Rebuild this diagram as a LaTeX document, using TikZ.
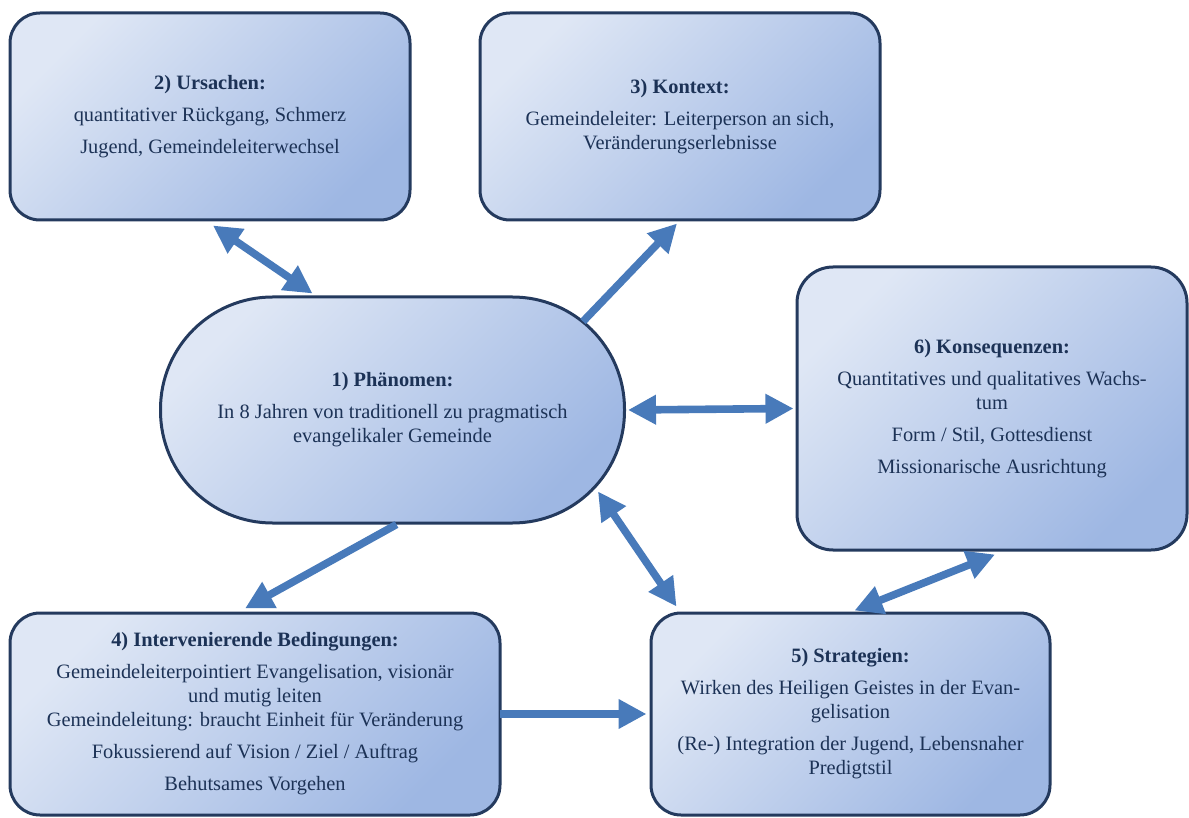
\documentclass[tikz,border=0pt]{standalone}
\usepackage{fontspec}
\setmainfont{Liberation Serif}
\usepackage{tikz}
\usetikzlibrary{arrows.meta, positioning, calc}
\definecolor{mynavy}{RGB}{36,58,94}
\definecolor{mytext}{RGB}{28,50,86}
\definecolor{myblue}{RGB}{72,122,186}
\definecolor{shadelight}{RGB}{223,231,245}
\definecolor{shadedark}{RGB}{158,183,227}
\tikzset{
  box/.style={rectangle, draw=mynavy, line width=1.5pt, rounded corners=15pt,
    top color=shadelight, bottom color=shadedark, shading angle=45,
    align=center, font=\fontsize{10.2}{12}\selectfont, text=mytext, inner sep=2pt},
  bigbox/.style={box, rounded corners=18pt},
  pill/.style={box, rounded corners=56pt},
  arrow/.style={line width=3.8pt, color=myblue, -{Triangle[width=14pt,length=14pt]}},
  dblarrow/.style={line width=3.8pt, color=myblue,
    {Triangle[width=14pt,length=14pt]}-{Triangle[width=14pt,length=14pt]}}
}

\begin{document}
\begin{tikzpicture}[x=0.5pt, y=-0.5pt]
  \useasboundingbox (0,0) rectangle (1189,818);
  % centre node
  \node[pill, minimum width=232pt, minimum height=113pt] (phaen) at (392.5,410)
    {\textbf{1) Phänomen:}\\[4pt]
     In 8 Jahren von traditionell zu pragmatisch\\ evangelikaler Gemeinde};
  % upper row
  \node[box, minimum width=200pt, minimum height=103.5pt] (ursach) at (210,116.5)
    {\textbf{2) Ursachen:}\\[4pt]
     quantitativer Rückgang, Schmerz\\[4pt] Jugend, Gemeindeleiterwechsel};
  \node[box, minimum width=200pt, minimum height=103.5pt] (kontext) at (680,116.5)
    {\textbf{3) Kontext:}\\[4pt]
     Gemeindeleiter: Leiterperson an sich,\\ Veränderungserlebnisse};
  % right side
  \node[bigbox, minimum width=195pt, minimum height=141.5pt] (konseq) at (992,408.5)
    {\textbf{6) Konsequenzen:}\\[4pt]
     Quantitatives und qualitatives Wachs-\\tum\\[4pt]
     Form / Stil, Gottesdienst\\[4pt] Missionarische Ausrichtung};
  % lower row
  \node[box, minimum width=245pt, minimum height=101pt] (interv) at (255,714)
    {\textbf{4) Intervenierende Bedingungen:}\\[4pt]
     Gemeindeleiterpointiert Evangelisation, visionär\\ und mutig leiten\\
     Gemeindeleitung: braucht Einheit für Veränderung\\[4pt]
     Fokussierend auf Vision / Ziel / Auftrag\\[4pt] Behutsames Vorgehen};
  \node[box, minimum width=199.5pt, minimum height=101pt] (strat) at (850.5,714)
    {\textbf{5) Strategien:}\\[4pt]
     Wirken des Heiligen Geistes in der Evan-\\gelisation\\[4pt]
     (Re-) Integration der Jugend, Lebensnaher\\ Predigtstil};
  % connectors
  \draw[dblarrow] ([xshift=1.5pt, yshift=-2pt]ursach.south) -- ([xshift=-40pt, yshift=1pt]phaen.north);
  \draw[arrow] ([shift={(-21.5pt,-13pt)}]phaen.north east) -- ([shift={(-1.5pt,-1pt)}]kontext.south);
  \draw[dblarrow] ([xshift=1pt]phaen.east) -- ([xshift=-1pt]konseq.west);
  \draw[arrow] ([xshift=2pt]phaen.south) -- ([shift={(-5pt,1.5pt)}]interv.north);
  \draw[dblarrow] ([shift={(-14pt,16.5pt)}]phaen.south east) -- ([shift={(13.5pt,2.5pt)}]strat.north west);
  \draw[dblarrow] ([shift={(2pt,0.5pt)}]strat.north) -- ([shift={(1.5pt,-1.5pt)}]konseq.south);
  \draw[arrow] ([xshift=-1pt]interv.east) -- ([xshift=-1.5pt]strat.west);
\end{tikzpicture}
\end{document}
